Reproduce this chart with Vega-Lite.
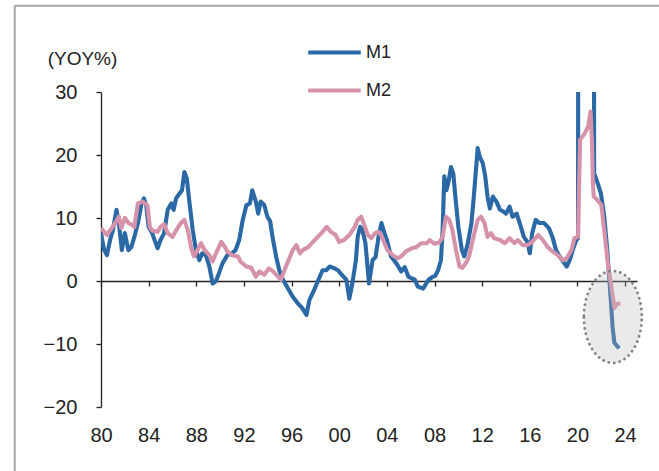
{
  "$schema": "https://vega.github.io/schema/vega-lite/v6.json",
  "width": 536,
  "height": 315,
  "autosize": {"type": "none"},
  "padding": {"left": 101, "top": 92, "right": 22, "bottom": 64},
  "background": "white",
  "config": {"view": {"stroke": null}, "font": "Liberation Sans"},
  "datasets": {
    "money": [
      {"t": 1980.0, "s": "M1", "v": 7.6}, {"t": 1980.25, "s": "M1", "v": 5.0}, {"t": 1980.5, "s": "M1", "v": 4.1}, {"t": 1980.76, "s": "M1", "v": 6.5},
      {"t": 1981.0, "s": "M1", "v": 8.1}, {"t": 1981.3, "s": "M1", "v": 11.3}, {"t": 1981.5, "s": "M1", "v": 9.2}, {"t": 1981.75, "s": "M1", "v": 4.9},
      {"t": 1982.0, "s": "M1", "v": 7.6}, {"t": 1982.3, "s": "M1", "v": 4.9}, {"t": 1982.55, "s": "M1", "v": 5.4}, {"t": 1982.8, "s": "M1", "v": 7.0},
      {"t": 1983.1, "s": "M1", "v": 9.2}, {"t": 1983.4, "s": "M1", "v": 12.3}, {"t": 1983.6, "s": "M1", "v": 13.1}, {"t": 1983.8, "s": "M1", "v": 12.0},
      {"t": 1984.0, "s": "M1", "v": 8.6}, {"t": 1984.3, "s": "M1", "v": 7.6}, {"t": 1984.5, "s": "M1", "v": 6.5}, {"t": 1984.75, "s": "M1", "v": 5.2},
      {"t": 1985.0, "s": "M1", "v": 6.5}, {"t": 1985.3, "s": "M1", "v": 7.6}, {"t": 1985.6, "s": "M1", "v": 11.3}, {"t": 1985.9, "s": "M1", "v": 12.3},
      {"t": 1986.1, "s": "M1", "v": 11.3}, {"t": 1986.3, "s": "M1", "v": 13.1}, {"t": 1986.6, "s": "M1", "v": 13.9}, {"t": 1986.8, "s": "M1", "v": 14.4},
      {"t": 1987.0, "s": "M1", "v": 17.3}, {"t": 1987.2, "s": "M1", "v": 16.3}, {"t": 1987.4, "s": "M1", "v": 12.9}, {"t": 1987.7, "s": "M1", "v": 8.1},
      {"t": 1987.97, "s": "M1", "v": 4.9}, {"t": 1988.25, "s": "M1", "v": 3.3}, {"t": 1988.5, "s": "M1", "v": 4.4}, {"t": 1988.8, "s": "M1", "v": 4.1},
      {"t": 1989.1, "s": "M1", "v": 2.3}, {"t": 1989.37, "s": "M1", "v": -0.4}, {"t": 1989.65, "s": "M1", "v": 0.0}, {"t": 1989.9, "s": "M1", "v": 1.2},
      {"t": 1990.2, "s": "M1", "v": 2.8}, {"t": 1990.6, "s": "M1", "v": 4.1}, {"t": 1991.0, "s": "M1", "v": 4.4}, {"t": 1991.3, "s": "M1", "v": 4.9},
      {"t": 1991.6, "s": "M1", "v": 6.5}, {"t": 1991.9, "s": "M1", "v": 9.7}, {"t": 1992.2, "s": "M1", "v": 12.0}, {"t": 1992.5, "s": "M1", "v": 12.3},
      {"t": 1992.7, "s": "M1", "v": 14.4}, {"t": 1993.0, "s": "M1", "v": 12.6}, {"t": 1993.2, "s": "M1", "v": 10.7}, {"t": 1993.4, "s": "M1", "v": 12.6},
      {"t": 1993.7, "s": "M1", "v": 12.1}, {"t": 1993.97, "s": "M1", "v": 10.2}, {"t": 1994.2, "s": "M1", "v": 9.5}, {"t": 1994.4, "s": "M1", "v": 7.0},
      {"t": 1994.7, "s": "M1", "v": 3.9}, {"t": 1994.97, "s": "M1", "v": 1.7}, {"t": 1995.25, "s": "M1", "v": 0.3}, {"t": 1995.7, "s": "M1", "v": -1.2},
      {"t": 1996.1, "s": "M1", "v": -2.5}, {"t": 1996.5, "s": "M1", "v": -3.5}, {"t": 1996.9, "s": "M1", "v": -4.3}, {"t": 1997.25, "s": "M1", "v": -5.4},
      {"t": 1997.5, "s": "M1", "v": -3.0}, {"t": 1997.9, "s": "M1", "v": -1.4}, {"t": 1998.3, "s": "M1", "v": 0.4}, {"t": 1998.6, "s": "M1", "v": 1.7},
      {"t": 1998.9, "s": "M1", "v": 1.7}, {"t": 1999.2, "s": "M1", "v": 2.3}, {"t": 1999.6, "s": "M1", "v": 2.0}, {"t": 1999.9, "s": "M1", "v": 1.7},
      {"t": 2000.2, "s": "M1", "v": 1.0}, {"t": 2000.6, "s": "M1", "v": 0.2}, {"t": 2000.85, "s": "M1", "v": -2.8}, {"t": 2001.1, "s": "M1", "v": -0.4},
      {"t": 2001.4, "s": "M1", "v": 3.3}, {"t": 2001.55, "s": "M1", "v": 7.0}, {"t": 2001.75, "s": "M1", "v": 8.6}, {"t": 2001.95, "s": "M1", "v": 8.1},
      {"t": 2002.2, "s": "M1", "v": 6.0}, {"t": 2002.5, "s": "M1", "v": -0.4}, {"t": 2002.8, "s": "M1", "v": 3.3}, {"t": 2003.05, "s": "M1", "v": 3.8},
      {"t": 2003.35, "s": "M1", "v": 7.6}, {"t": 2003.55, "s": "M1", "v": 9.2}, {"t": 2003.8, "s": "M1", "v": 7.6}, {"t": 2004.0, "s": "M1", "v": 6.5},
      {"t": 2004.35, "s": "M1", "v": 3.9}, {"t": 2004.6, "s": "M1", "v": 3.3}, {"t": 2004.9, "s": "M1", "v": 2.5}, {"t": 2005.2, "s": "M1", "v": 1.5},
      {"t": 2005.5, "s": "M1", "v": 2.2}, {"t": 2005.8, "s": "M1", "v": 0.7}, {"t": 2006.1, "s": "M1", "v": 0.4}, {"t": 2006.35, "s": "M1", "v": 0.2},
      {"t": 2006.6, "s": "M1", "v": -0.9}, {"t": 2007.05, "s": "M1", "v": -1.2}, {"t": 2007.5, "s": "M1", "v": 0.2}, {"t": 2007.8, "s": "M1", "v": 0.6},
      {"t": 2008.05, "s": "M1", "v": 0.8}, {"t": 2008.3, "s": "M1", "v": 1.7}, {"t": 2008.54, "s": "M1", "v": 3.3}, {"t": 2008.68, "s": "M1", "v": 8.1},
      {"t": 2008.82, "s": "M1", "v": 16.6}, {"t": 2009.0, "s": "M1", "v": 14.4}, {"t": 2009.2, "s": "M1", "v": 16.0}, {"t": 2009.38, "s": "M1", "v": 18.1},
      {"t": 2009.58, "s": "M1", "v": 17.0}, {"t": 2009.75, "s": "M1", "v": 13.4}, {"t": 2010.0, "s": "M1", "v": 8.6}, {"t": 2010.3, "s": "M1", "v": 4.9},
      {"t": 2010.5, "s": "M1", "v": 3.9}, {"t": 2010.8, "s": "M1", "v": 6.0}, {"t": 2011.1, "s": "M1", "v": 9.2}, {"t": 2011.3, "s": "M1", "v": 13.4},
      {"t": 2011.48, "s": "M1", "v": 17.6}, {"t": 2011.62, "s": "M1", "v": 21.1}, {"t": 2011.8, "s": "M1", "v": 19.7}, {"t": 2012.05, "s": "M1", "v": 18.7},
      {"t": 2012.26, "s": "M1", "v": 16.6}, {"t": 2012.45, "s": "M1", "v": 13.4}, {"t": 2012.65, "s": "M1", "v": 11.5}, {"t": 2012.9, "s": "M1", "v": 13.4},
      {"t": 2013.2, "s": "M1", "v": 12.6}, {"t": 2013.5, "s": "M1", "v": 11.3}, {"t": 2013.8, "s": "M1", "v": 11.0}, {"t": 2014.0, "s": "M1", "v": 10.7},
      {"t": 2014.3, "s": "M1", "v": 11.8}, {"t": 2014.55, "s": "M1", "v": 10.2}, {"t": 2014.9, "s": "M1", "v": 10.7}, {"t": 2015.25, "s": "M1", "v": 8.6},
      {"t": 2015.5, "s": "M1", "v": 7.0}, {"t": 2015.8, "s": "M1", "v": 6.2}, {"t": 2016.0, "s": "M1", "v": 4.4}, {"t": 2016.2, "s": "M1", "v": 7.6},
      {"t": 2016.5, "s": "M1", "v": 9.7}, {"t": 2016.8, "s": "M1", "v": 9.2}, {"t": 2017.2, "s": "M1", "v": 9.2}, {"t": 2017.6, "s": "M1", "v": 8.4},
      {"t": 2017.9, "s": "M1", "v": 7.0}, {"t": 2018.2, "s": "M1", "v": 4.9}, {"t": 2018.5, "s": "M1", "v": 3.9}, {"t": 2018.8, "s": "M1", "v": 3.1},
      {"t": 2019.1, "s": "M1", "v": 2.3}, {"t": 2019.35, "s": "M1", "v": 3.3}, {"t": 2019.6, "s": "M1", "v": 4.9}, {"t": 2019.9, "s": "M1", "v": 6.5},
      {"t": 2020.05, "s": "M1", "v": 6.8}, {"t": 2020.15, "s": "M1", "v": 250}, {"t": 2020.6, "s": "M1", "v": 330}, {"t": 2021.0, "s": "M1", "v": 330},
      {"t": 2021.3, "s": "M1", "v": 250}, {"t": 2021.4, "s": "M1", "v": 17.1}, {"t": 2021.7, "s": "M1", "v": 15.5}, {"t": 2021.97, "s": "M1", "v": 13.9},
      {"t": 2022.25, "s": "M1", "v": 10.2}, {"t": 2022.5, "s": "M1", "v": 5.0}, {"t": 2022.65, "s": "M1", "v": 1.0}, {"t": 2022.8, "s": "M1", "v": -3.0},
      {"t": 2022.95, "s": "M1", "v": -7.3}, {"t": 2023.1, "s": "M1", "v": -9.8}, {"t": 2023.5, "s": "M1", "v": -10.7},

      {"t": 1980.0, "s": "M2", "v": 8.4}, {"t": 1980.5, "s": "M2", "v": 7.3}, {"t": 1980.9, "s": "M2", "v": 8.4}, {"t": 1981.2, "s": "M2", "v": 9.2},
      {"t": 1981.5, "s": "M2", "v": 10.2}, {"t": 1981.7, "s": "M2", "v": 8.4}, {"t": 1982.0, "s": "M2", "v": 10.0}, {"t": 1982.3, "s": "M2", "v": 9.2},
      {"t": 1982.55, "s": "M2", "v": 9.0}, {"t": 1982.8, "s": "M2", "v": 8.6}, {"t": 1983.1, "s": "M2", "v": 12.3}, {"t": 1983.5, "s": "M2", "v": 12.6},
      {"t": 1983.9, "s": "M2", "v": 12.0}, {"t": 1984.1, "s": "M2", "v": 8.6}, {"t": 1984.3, "s": "M2", "v": 8.0}, {"t": 1984.75, "s": "M2", "v": 7.8},
      {"t": 1985.0, "s": "M2", "v": 8.6}, {"t": 1985.3, "s": "M2", "v": 9.0}, {"t": 1985.6, "s": "M2", "v": 7.6}, {"t": 1986.0, "s": "M2", "v": 7.0},
      {"t": 1986.3, "s": "M2", "v": 8.0}, {"t": 1986.7, "s": "M2", "v": 9.2}, {"t": 1987.0, "s": "M2", "v": 9.7}, {"t": 1987.3, "s": "M2", "v": 8.0},
      {"t": 1987.55, "s": "M2", "v": 5.4}, {"t": 1987.8, "s": "M2", "v": 3.9}, {"t": 1988.1, "s": "M2", "v": 4.9}, {"t": 1988.4, "s": "M2", "v": 6.0},
      {"t": 1988.7, "s": "M2", "v": 4.9}, {"t": 1989.1, "s": "M2", "v": 4.1}, {"t": 1989.37, "s": "M2", "v": 3.1}, {"t": 1989.65, "s": "M2", "v": 4.4},
      {"t": 1990.1, "s": "M2", "v": 6.2}, {"t": 1990.4, "s": "M2", "v": 5.4}, {"t": 1990.6, "s": "M2", "v": 4.7}, {"t": 1991.0, "s": "M2", "v": 4.1},
      {"t": 1991.5, "s": "M2", "v": 3.9}, {"t": 1991.7, "s": "M2", "v": 3.1}, {"t": 1992.2, "s": "M2", "v": 2.3}, {"t": 1992.6, "s": "M2", "v": 2.1},
      {"t": 1993.0, "s": "M2", "v": 0.7}, {"t": 1993.3, "s": "M2", "v": 1.5}, {"t": 1993.7, "s": "M2", "v": 1.0}, {"t": 1994.1, "s": "M2", "v": 2.0},
      {"t": 1994.4, "s": "M2", "v": 1.6}, {"t": 1994.7, "s": "M2", "v": 1.0}, {"t": 1995.1, "s": "M2", "v": 0.2}, {"t": 1995.4, "s": "M2", "v": 1.7},
      {"t": 1995.7, "s": "M2", "v": 3.1}, {"t": 1996.1, "s": "M2", "v": 4.9}, {"t": 1996.4, "s": "M2", "v": 5.7}, {"t": 1996.7, "s": "M2", "v": 4.4},
      {"t": 1996.95, "s": "M2", "v": 4.9}, {"t": 1997.4, "s": "M2", "v": 5.4}, {"t": 1997.8, "s": "M2", "v": 6.2}, {"t": 1998.2, "s": "M2", "v": 7.0},
      {"t": 1998.6, "s": "M2", "v": 7.8}, {"t": 1998.95, "s": "M2", "v": 8.6}, {"t": 1999.3, "s": "M2", "v": 7.8}, {"t": 1999.7, "s": "M2", "v": 7.3},
      {"t": 2000.0, "s": "M2", "v": 6.2}, {"t": 2000.4, "s": "M2", "v": 6.5}, {"t": 2000.85, "s": "M2", "v": 7.3}, {"t": 2001.3, "s": "M2", "v": 8.6},
      {"t": 2001.55, "s": "M2", "v": 9.7}, {"t": 2001.85, "s": "M2", "v": 10.2}, {"t": 2002.1, "s": "M2", "v": 8.9}, {"t": 2002.4, "s": "M2", "v": 7.3},
      {"t": 2002.7, "s": "M2", "v": 6.8}, {"t": 2003.0, "s": "M2", "v": 7.6}, {"t": 2003.3, "s": "M2", "v": 7.8}, {"t": 2003.55, "s": "M2", "v": 7.2},
      {"t": 2003.8, "s": "M2", "v": 6.0}, {"t": 2004.05, "s": "M2", "v": 4.9}, {"t": 2004.5, "s": "M2", "v": 4.1}, {"t": 2004.9, "s": "M2", "v": 3.6},
      {"t": 2005.2, "s": "M2", "v": 3.9}, {"t": 2005.6, "s": "M2", "v": 4.7}, {"t": 2006.1, "s": "M2", "v": 5.2}, {"t": 2006.5, "s": "M2", "v": 5.4},
      {"t": 2006.9, "s": "M2", "v": 6.0}, {"t": 2007.35, "s": "M2", "v": 6.0}, {"t": 2007.6, "s": "M2", "v": 6.5}, {"t": 2008.0, "s": "M2", "v": 5.9},
      {"t": 2008.4, "s": "M2", "v": 6.1}, {"t": 2008.68, "s": "M2", "v": 7.0}, {"t": 2008.96, "s": "M2", "v": 10.2}, {"t": 2009.24, "s": "M2", "v": 9.7},
      {"t": 2009.5, "s": "M2", "v": 8.1}, {"t": 2009.8, "s": "M2", "v": 4.9}, {"t": 2010.1, "s": "M2", "v": 2.3}, {"t": 2010.35, "s": "M2", "v": 2.1},
      {"t": 2010.63, "s": "M2", "v": 2.8}, {"t": 2010.9, "s": "M2", "v": 3.9}, {"t": 2011.35, "s": "M2", "v": 7.6}, {"t": 2011.62, "s": "M2", "v": 9.7},
      {"t": 2011.9, "s": "M2", "v": 10.2}, {"t": 2012.2, "s": "M2", "v": 9.2}, {"t": 2012.45, "s": "M2", "v": 7.0}, {"t": 2012.75, "s": "M2", "v": 7.6},
      {"t": 2013.0, "s": "M2", "v": 6.8}, {"t": 2013.5, "s": "M2", "v": 6.5}, {"t": 2013.9, "s": "M2", "v": 6.0}, {"t": 2014.3, "s": "M2", "v": 6.8},
      {"t": 2014.7, "s": "M2", "v": 6.0}, {"t": 2015.0, "s": "M2", "v": 6.5}, {"t": 2015.4, "s": "M2", "v": 5.7}, {"t": 2015.8, "s": "M2", "v": 5.7},
      {"t": 2016.2, "s": "M2", "v": 6.2}, {"t": 2016.7, "s": "M2", "v": 7.3}, {"t": 2017.1, "s": "M2", "v": 6.5}, {"t": 2017.5, "s": "M2", "v": 5.4},
      {"t": 2017.9, "s": "M2", "v": 4.7}, {"t": 2018.35, "s": "M2", "v": 4.1}, {"t": 2018.8, "s": "M2", "v": 3.3}, {"t": 2019.1, "s": "M2", "v": 3.6},
      {"t": 2019.5, "s": "M2", "v": 4.9}, {"t": 2019.75, "s": "M2", "v": 6.8}, {"t": 2020.05, "s": "M2", "v": 7.0}, {"t": 2020.22, "s": "M2", "v": 22.4},
      {"t": 2020.6, "s": "M2", "v": 23.4}, {"t": 2020.9, "s": "M2", "v": 24.5}, {"t": 2021.1, "s": "M2", "v": 26.9}, {"t": 2021.22, "s": "M2", "v": 22.0},
      {"t": 2021.3, "s": "M2", "v": 15.5}, {"t": 2021.37, "s": "M2", "v": 13.4}, {"t": 2021.6, "s": "M2", "v": 13.0}, {"t": 2022.0, "s": "M2", "v": 12.1},
      {"t": 2022.25, "s": "M2", "v": 8.1}, {"t": 2022.55, "s": "M2", "v": 2.8}, {"t": 2022.97, "s": "M2", "v": -2.5}, {"t": 2023.1, "s": "M2", "v": -4.3},
      {"t": 2023.3, "s": "M2", "v": -3.6}, {"t": 2023.6, "s": "M2", "v": -3.6}
    ]
  },
  "layer": [
    {
      "data": {"values": [{}]},
      "mark": {"type": "rule", "color": "#A6A6A6", "strokeWidth": 2},
      "encoding": {
        "x": {"datum": 1972.76, "type": "quantitative", "scale": {"domain": [1980, 2025], "nice": false, "zero": false}},
        "y": {"datum": 43.7, "type": "quantitative", "scale": {"domain": [-20, 30], "nice": false}},
        "y2": {"datum": -40}
      }
    },
    {
      "data": {"values": [{}]},
      "mark": {"type": "rule", "color": "#A6A6A6", "strokeWidth": 2},
      "encoding": {
        "x": {"datum": 1972.76, "type": "quantitative", "scale": {"domain": [1980, 2025], "nice": false, "zero": false}},
        "x2": {"datum": 2030},
        "y": {"datum": 43.7, "type": "quantitative", "scale": {"domain": [-20, 30], "nice": false}}
      }
    },
    {
      "data": {"name": "money"},
      "transform": [{"filter": "datum.s === 'M1'"}],
      "mark": {"type": "line", "clip": true, "strokeWidth": 4.1, "strokeJoin": "round"},
      "encoding": {
        "x": {"field": "t", "type": "quantitative", "scale": {"domain": [1980, 2025], "nice": false, "zero": false},
          "axis": {"title": null, "grid": false, "values": [1980, 1984, 1988, 1992, 1996, 2000, 2004, 2008, 2012, 2016, 2020, 2024],
            "labelExpr": "substring(toString(datum.value), 2)", "offset": -126, "tickSize": 5, "labelPadding": 139,
            "labelFontSize": 20, "labelColor": "#222", "domainColor": "#222", "tickColor": "#222", "domainWidth": 1.3, "tickWidth": 1.3, "labelFlush": false}},
        "y": {"field": "v", "type": "quantitative", "scale": {"domain": [-20, 30], "nice": false},
          "axis": {"title": "(YOY%)", "grid": false, "values": [-20, -10, 0, 10, 20, 30], "tickSize": 5, "labelPadding": 19,
            "labelFontSize": 20, "labelColor": "#222", "domainColor": "#222", "tickColor": "#222", "domainWidth": 1.3, "tickWidth": 1.3,
            "titleAngle": 0, "titleX": -19, "titleY": -34, "titleAlign": "center", "titleBaseline": "middle",
            "titleFontSize": 19, "titleFontWeight": "normal", "titleColor": "#222", "labelFlush": false}},
        "color": {"field": "s", "type": "nominal", "scale": {"domain": ["M1", "M2"], "range": ["#2A69A6", "#D692AA"]},
          "legend": {"title": null, "orient": "none", "legendX": 205, "legendY": -68, "symbolType": "stroke", "symbolSize": 2756,
            "symbolStrokeWidth": 4, "labelFontSize": 18, "labelColor": "#222", "labelOffset": 3, "rowPadding": 0}}
      }
    },
    {
      "data": {"name": "money"},
      "transform": [{"filter": "datum.s === 'M2'"}],
      "mark": {"type": "line", "clip": true, "strokeWidth": 4.1, "strokeJoin": "round"},
      "encoding": {
        "x": {"field": "t", "type": "quantitative", "scale": {"domain": [1980, 2025], "nice": false, "zero": false}},
        "y": {"field": "v", "type": "quantitative", "scale": {"domain": [-20, 30], "nice": false}},
        "color": {"field": "s", "type": "nominal", "scale": {"domain": ["M1", "M2"], "range": ["#2A69A6", "#D692AA"]}}
      }
    },
    {
      "data": {"values": [{}]},
      "mark": {"type": "point", "shape": "M -0.63,0 A 0.63,1 0 1,1 0.63,0 A 0.63,1 0 1,1 -0.63,0 Z", "size": 8464,
        "filled": true, "fill": "#BBBBBB", "fillOpacity": 0.3, "stroke": "#808080", "strokeOpacity": 1, "strokeWidth": 2.5, "strokeDash": [2.5, 3], "opacity": 1},
      "encoding": {
        "x": {"datum": 2022.97, "type": "quantitative", "scale": {"domain": [1980, 2025], "nice": false, "zero": false}},
        "y": {"datum": -5.7, "type": "quantitative", "scale": {"domain": [-20, 30], "nice": false}}
      }
    }
  ]
}
